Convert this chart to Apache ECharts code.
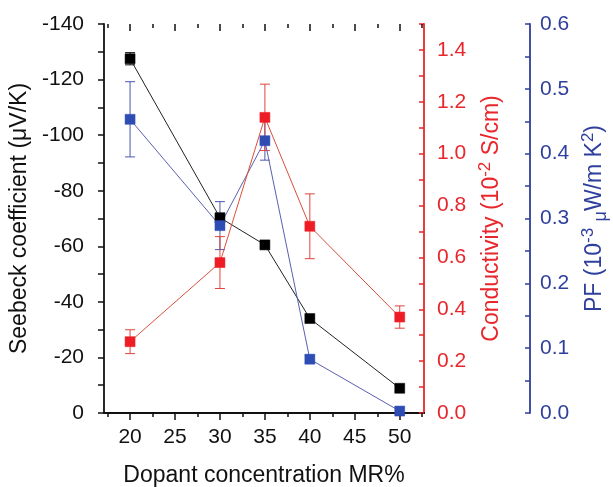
<!DOCTYPE html>
<html>
<head>
<meta charset="utf-8">
<script src="https://cdn.jsdelivr.net/npm/echarts@6/dist/echarts.min.js"></script>
<style>
html,body{margin:0;padding:0;background:#fff;}
#chart{width:613px;height:487px;}
</style>
</head>
<body>
<div id="chart"></div>
<script>
// dopant concentration (MR%)
var dopant = [20, 30, 35, 40, 50];
// Seebeck coefficient, uV/K
var seebeck = [-127.5, -70.3, -60.5, -34.0, -8.9];
var seebeckErr = [2.2, 0, 0, 0, 0];
// conductivity, 10^-2 S/cm
var conductivity = [0.275, 0.58, 1.14, 0.72, 0.37];
var conductivityErr = [0.046, 0.10, 0.128, 0.125, 0.043];
// power factor, 10^-3 uW/m K^2
var powerFactor = [0.453, 0.289, 0.42, 0.083, 0.003];
var powerFactorErr = [0.058, 0.037, 0.03, 0.006, 0];

var FONT = '"Liberation Sans", Arial, sans-serif';
var BLACK = '#111111';
var RED = '#e8262b';
var BLUE = '#2f3f9c';
var LABEL_SIZE = 21;
var TITLE_SIZE = 23;

var myChart = echarts.init(document.getElementById('chart'));

// 竖直误差棒
function errorSeries(vals, errs, yIndex, color)
{
	var data = [];
	for(var i=0;i<vals.length;i++)
	{
		if(errs[i] > 0) data.push([dopant[i], vals[i]-errs[i], vals[i]+errs[i]]);
	}
	return {
		type: 'custom', xAxisIndex: 0, yAxisIndex: yIndex, silent: true,
		encode: {x: 0, y: [1, 2]},
		data: data,
		renderItem: function(params, api){
			var x = api.value(0);
			var lo = api.coord([x, api.value(1)]);
			var hi = api.coord([x, api.value(2)]);
			var w = 5;
			var st = {stroke: color, lineWidth: 1};
			return {type: 'group', children: [
				{type: 'line', shape: {x1: lo[0], y1: lo[1], x2: hi[0], y2: hi[1]}, style: st},
				{type: 'line', shape: {x1: lo[0]-w, y1: lo[1], x2: lo[0]+w, y2: lo[1]}, style: st},
				{type: 'line', shape: {x1: hi[0]-w, y1: hi[1], x2: hi[0]+w, y2: hi[1]}, style: st}
			]};
		}
	};
}
function lineSeries(vals, yIndex, color, lineColor)
{
	var data = [];
	for(var i=0;i<vals.length;i++) data.push([dopant[i], vals[i]]);
	return {
		type: 'line', xAxisIndex: 0, yAxisIndex: yIndex, data: data,
		symbol: 'rect', symbolSize: 10, animation: false,
		itemStyle: {color: color, borderColor: color, borderWidth: 0.5},
		lineStyle: {color: lineColor, width: 1}
	};
}
// 每隔一个刻度显示标签
function everyOther(step)
{
	return function(v){
		var k = Math.round(v / step);
		if(k % 2 != 0) return '';
		return (step < 1) ? (k * step).toFixed(1) : String(Math.round(v));
	};
}

// x轴刻度用三个grid叠起来：主框、短刻度(17.5起每2.5)、长刻度(20起每5)
var plotL = 104, plotR = 424, plotT = 24, plotB = 413;
var xMin = 17.1, xMax = 52.7;
var pxPerUnit = (plotR - plotL) / (xMax - xMin);
function xPix(v){ return plotL + (v - xMin) * pxPerUnit; }
function gridFor(a, b){
	return {left: xPix(a), right: 613 - xPix(b), top: plotT, bottom: 487 - plotB, containLabel: false, outerBoundsMode: 'none'};
}

var hiddenLine = {show: false};
var tickStyle = {color: BLACK, width: 1.5};

var option = {
	backgroundColor: '#fff',
	animation: false,
	textStyle: {fontFamily: FONT},
	grid: [
		{left: plotL, right: 613 - plotR, top: plotT, bottom: 487 - plotB, containLabel: false, outerBoundsMode: 'none'},
		gridFor(17.5, 52.5),
		gridFor(20, 50)
	],
	xAxis: [
		{gridIndex: 0, type: 'value', min: xMin, max: xMax, position: 'bottom',
			axisLine: {lineStyle: {color: BLACK, width: 1.8}}, axisTick: {show: false}, axisLabel: {show: false}, splitLine: {show: false},
			name: 'Dopant concentration MR%', nameLocation: 'middle', nameGap: 51,
			nameTextStyle: {fontSize: TITLE_SIZE, color: BLACK, fontFamily: FONT}},
		{gridIndex: 0, type: 'value', min: xMin, max: xMax, position: 'top',
			axisLine: {lineStyle: {color: BLACK, width: 1.8}}, axisTick: {show: false}, axisLabel: {show: false}, splitLine: {show: false}},
		{gridIndex: 1, type: 'value', min: 17.5, max: 52.5, interval: 2.5, position: 'bottom',
			axisLine: hiddenLine, axisTick: {inside: false, length: 4, lineStyle: tickStyle}, axisLabel: {show: false}, splitLine: {show: false}},
		{gridIndex: 1, type: 'value', min: 17.5, max: 52.5, interval: 2.5, position: 'top',
			axisLine: hiddenLine, axisTick: {inside: true, length: 4, lineStyle: tickStyle}, axisLabel: {show: false}, splitLine: {show: false}},
		{gridIndex: 2, type: 'value', min: 20, max: 50, interval: 5, position: 'bottom',
			axisLine: hiddenLine, axisTick: {inside: false, length: 7, lineStyle: tickStyle},
			axisLabel: {show: true, margin: 14, fontSize: LABEL_SIZE, color: BLACK, fontFamily: FONT}, splitLine: {show: false}},
		{gridIndex: 2, type: 'value', min: 20, max: 50, interval: 5, position: 'top',
			axisLine: hiddenLine, axisTick: {inside: true, length: 7, lineStyle: tickStyle}, axisLabel: {show: false}, splitLine: {show: false}}
	],
	yAxis: [
		{gridIndex: 0, type: 'value', min: -140, max: 0, interval: 10, inverse: true, position: 'left',
			axisLine: {show: true, lineStyle: {color: BLACK, width: 1.8}},
			axisTick: {show: true, inside: false, length: 6, lineStyle: tickStyle},
			axisLabel: {margin: 20, fontSize: LABEL_SIZE, color: BLACK, fontFamily: FONT, formatter: everyOther(10)},
			splitLine: {show: false},
			name: 'Seebeck coefficient (μV/K)', nameLocation: 'middle', nameGap: 72,
			nameTextStyle: {fontSize: TITLE_SIZE, color: BLACK, fontFamily: FONT}},
		{gridIndex: 0, type: 'value', min: 0, max: 1.5, interval: 0.1, position: 'right',
			axisLine: {show: true, lineStyle: {color: RED, width: 1.8}},
			axisTick: {show: true, inside: true, length: 5, lineStyle: {color: RED, width: 1.5}},
			axisLabel: {margin: 13, fontSize: LABEL_SIZE, color: RED, fontFamily: FONT, formatter: everyOther(0.1)},
			splitLine: {show: false},
			name: 'Conductivity (10{sup|-2} S/cm)', nameLocation: 'middle', nameGap: 51,
			nameTextStyle: {fontSize: TITLE_SIZE, color: RED, fontFamily: FONT, lineHeight: 30,
				rich: {sup: {fontSize: 17, color: RED, fontFamily: FONT, verticalAlign: 'top', lineHeight: 30}}}},
		{gridIndex: 0, type: 'value', min: 0, max: 0.6, interval: 0.05, position: 'right', offset: 106,
			axisLine: {show: true, lineStyle: {color: BLUE, width: 1.8}},
			axisTick: {show: true, inside: true, length: 5, lineStyle: {color: BLUE, width: 1.5}},
			axisLabel: {margin: 10, fontSize: LABEL_SIZE, color: BLUE, fontFamily: FONT, formatter: everyOther(0.05)},
			splitLine: {show: false},
			name: 'PF (10{sup|-3} {sub|μ}W/m K{sup|2})', nameLocation: 'middle', nameGap: 45,
			nameTextStyle: {fontSize: TITLE_SIZE, color: BLUE, fontFamily: FONT, lineHeight: 30,
				rich: {
					sup: {fontSize: 17, color: BLUE, fontFamily: FONT, verticalAlign: 'top', lineHeight: 30},
					sub: {fontSize: 18, color: BLUE, fontFamily: FONT, verticalAlign: 'bottom', lineHeight: 30}
				}}},
		{gridIndex: 1, type: 'value', show: false, min: 0, max: 1},
		{gridIndex: 2, type: 'value', show: false, min: 0, max: 1}
	],
	series: [
		errorSeries(seebeck, seebeckErr, 0, BLACK),
		lineSeries(seebeck, 0, '#000000', '#222222'),
		errorSeries(powerFactor, powerFactorErr, 2, '#4a56b0'),
		lineSeries(powerFactor, 2, '#2e4db4', '#5a5fae'),
		errorSeries(conductivity, conductivityErr, 1, '#e0443a'),
		lineSeries(conductivity, 1, '#ee1d25', '#d9503c')
	]
};
myChart.setOption(option);
</script>
</body>
</html>
